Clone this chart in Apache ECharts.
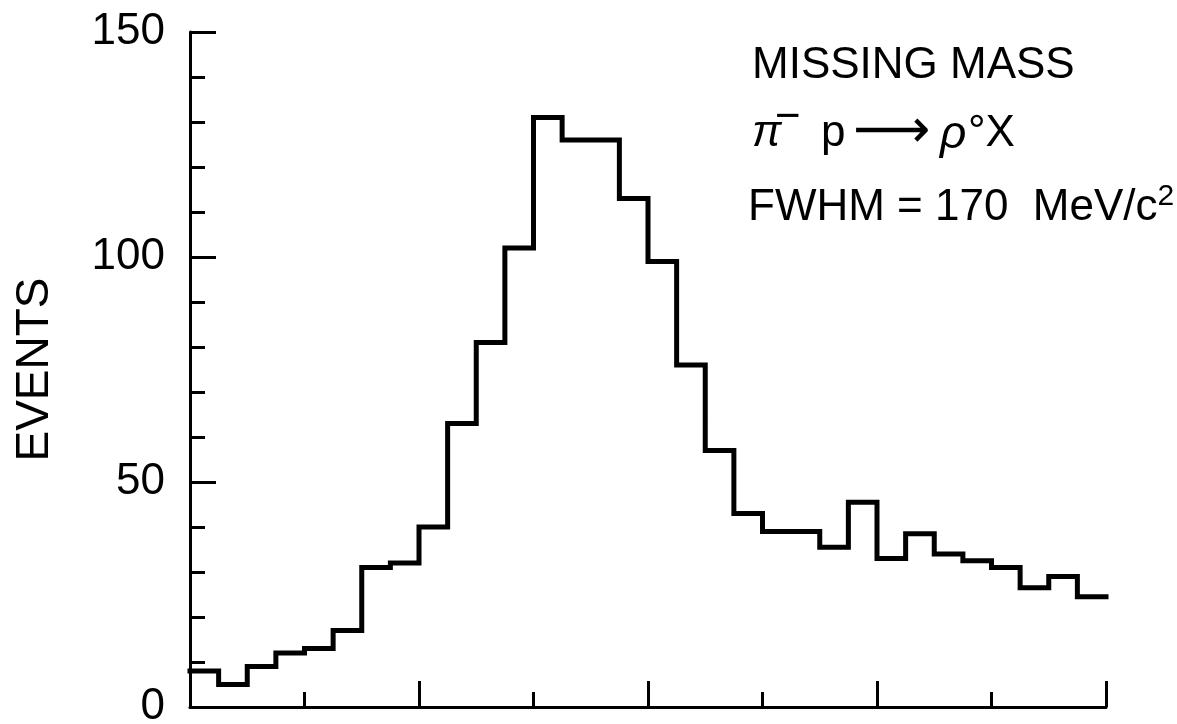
<!DOCTYPE html>
<html>
<head>
<meta charset="utf-8">
<script src="https://cdn.jsdelivr.net/npm/echarts@6/dist/echarts.min.js"></script>
<style>
html,body{margin:0;padding:0;background:#fff;}
#chart{width:1177px;height:724px;}
</style>
</head>
<body>
<div id="chart"></div>
<script>
// Histogram bin values (32 bins, missing mass)
const binValues = [8, 5, 9, 12, 13, 17, 31, 32, 40, 63, 81, 102, 131, 126, 126, 113,
                   99, 76, 57, 43, 39, 39, 35.5, 45.5, 33, 38.5, 34, 32.5, 31, 26.5, 29, 24.5];
const binEdges = Array.from({length: binValues.length + 1}, (_, i) => i);
const yTickLabels = ['0', '50', '100', '150'];
const yAxisTitle = 'EVENTS';
const annotationTitle = 'MISSING MASS';
const reactionParts = ['π', '−', 'p', '⟶', 'ρ', '°X'];
const fwhmText = 'FWHM = 170  MeV/c';
const fwhmSup = '2';

const points = binEdges.map((e, i) => [e, binValues[Math.min(i, binValues.length - 1)]]);

const FONT = '"Liberation Sans", Arial, sans-serif';
const chart = echarts.init(document.getElementById('chart'), null, {renderer: 'canvas'});

chart.setOption({
  backgroundColor: '#ffffff',
  animation: false,
  grid: {left: 190, right: 71, top: 32, bottom: 17, containLabel: false, outerBoundsMode: 'none'},
  xAxis: [
    {type: 'value', min: 0, max: binValues.length, interval: 4, position: 'bottom',
     axisLine: {show: true, onZero: false, lineStyle: {color: '#000', width: 3}},
     axisTick: {show: true, inside: true, length: 15, lineStyle: {color: '#000', width: 3}},
     axisLabel: {show: false}, splitLine: {show: false}},
    {type: 'value', min: 0, max: binValues.length, interval: 8, position: 'bottom',
     axisLine: {show: false},
     axisTick: {show: true, inside: true, length: 26, lineStyle: {color: '#000', width: 3}},
     axisLabel: {show: false}, splitLine: {show: false}}
  ],
  yAxis: [
    {type: 'value', min: 0, max: 150, interval: 10, position: 'left',
     axisLine: {show: true, onZero: false, lineStyle: {color: '#000', width: 3}},
     axisTick: {show: true, inside: true, length: 15, lineStyle: {color: '#000', width: 3}},
     axisLabel: {show: false}, splitLine: {show: false}},
    {type: 'value', min: 0, max: 150, interval: 50, position: 'left', offset: 0,
     name: yAxisTitle, nameLocation: 'middle', nameRotate: 90, nameGap: 132,
     nameTextStyle: {fontFamily: FONT, fontSize: 46, color: '#000'},
     axisLine: {show: false},
     axisTick: {show: true, inside: true, length: 26, lineStyle: {color: '#000', width: 3}},
     axisLabel: {show: true, margin: 25, fontFamily: FONT, fontSize: 44, color: '#000',
       formatter: function (v) { const s = String(v); return yTickLabels.indexOf(s) >= 0 ? s : ''; }},
     splitLine: {show: false}}
  ],
  series: [{
    type: 'line', xAxisIndex: 0, yAxisIndex: 0, step: 'end', data: points,
    symbol: 'none', lineStyle: {color: '#000', width: 5, join: 'miter', cap: 'square'}
  }],
  graphic: [
    {type: 'text', left: 752, top: 44,
     style: {text: annotationTitle, font: '44px ' + FONT, fill: '#000'}},
    {type: 'text', left: 752, top: 112,
     style: {text: reactionParts[0], font: 'italic 44px ' + FONT, fill: '#000'}},
    {type: 'text', left: 775, top: 96,
     style: {text: reactionParts[1], font: '44px ' + FONT, fill: '#000'}},
    {type: 'text', left: 821, top: 112,
     style: {text: reactionParts[2], font: '44px ' + FONT, fill: '#000'}},
    {type: 'text', left: 853, top: 106,
     style: {text: reactionParts[3], font: '54px "DejaVu Sans", sans-serif', fill: '#000'}},
    {type: 'text', left: 940, top: 112,
     style: {text: reactionParts[4], font: 'italic 46px ' + FONT, fill: '#000'}},
    {type: 'text', left: 968, top: 112,
     style: {text: reactionParts[5], font: '44px ' + FONT, fill: '#000'}},
    {type: 'text', left: 748, top: 182,
     style: {
       text: '{n|' + fwhmText + '}{sup|' + fwhmSup + '}',
       rich: {
         n: {fontFamily: FONT, fontSize: 44, fill: '#000'},
         sup: {fontFamily: FONT, fontSize: 30, fill: '#000', padding: [0, 0, 22, 0]}
       }
     }}
  ]
});
</script>
</body>
</html>
